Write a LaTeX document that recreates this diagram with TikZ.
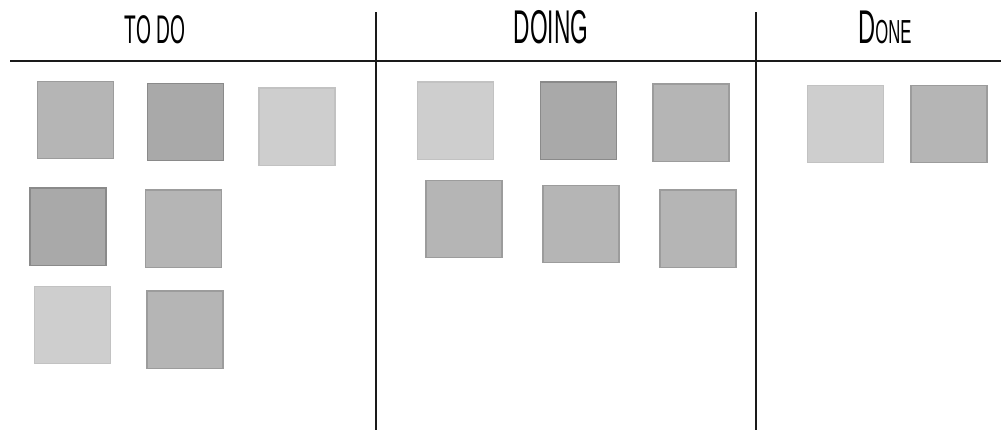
\documentclass[tikz,border=0pt]{standalone}
\usepackage{fontspec}
\setmainfont{Liberation Sans}
\usepackage{graphicx}
\definecolor{lightfill}{HTML}{CECECE}
\definecolor{lightedge}{HTML}{C2C2C2}
\definecolor{midfill}{HTML}{B5B5B5}
\definecolor{midedge}{HTML}{9C9C9C}
\definecolor{darkfill}{HTML}{A9A9A9}
\definecolor{darkedge}{HTML}{8A8A8A}
\definecolor{inkline}{HTML}{1A1A1A}
\begin{document}
\begin{tikzpicture}[x=0.75pt,y=-0.75pt,
  card/.style={rectangle, inner sep=0pt, minimum width=57pt, minimum height=58pt, line width=1pt},
  lightcard/.style={card, fill=lightfill, draw=lightedge},
  midcard/.style={card, fill=midfill, draw=midedge},
  darkcard/.style={card, fill=darkfill, draw=darkedge},
  coltitle/.style={anchor=base, inner sep=0pt, text=black},
  board/.style={draw=inkline, line width=1.4pt}]
\useasboundingbox (0,0) rectangle (1001,430);
% board lines
\coordinate (hl) at (10,61);
\coordinate (hr) at (1001,61);
\coordinate (v1t) at (376,12);
\coordinate (v1b) at (376,430);
\coordinate (v2t) at (756,12);
\coordinate (v2b) at (756,430);
\draw[board] (hl) -- (hr);
\draw[board] (v1t) -- (v1b);
\draw[board] (v2t) -- (v2b);
% titles
\node[coltitle] (todo) at (155,43) {\scalebox{0.48}[1]{\fontsize{30pt}{32pt}\selectfont TO DO}};
\node[coltitle] (doing) at (551,43) {\scalebox{0.48}[1]{\fontsize{35.5pt}{37pt}\selectfont DOING}};
\node[coltitle] (done) at (885,43) {\scalebox{0.5}[1]{\fontsize{35.5pt}{37pt}\selectfont D\fontsize{25pt}{27pt}\selectfont ONE}};
% TO DO cards
\node[midcard] (s1) at (75.5,120) {};
\node[darkcard] (s2) at (185.5,122) {};
\node[lightcard] (s3) at (297,126.5) {};
\node[darkcard] (s4) at (68,226.5) {};
\node[midcard] (s5) at (183.5,228.5) {};
\node[lightcard] (s6) at (72.5,325) {};
\node[midcard] (s7) at (185,329.5) {};
% DOING cards
\node[lightcard] (s8) at (455.5,120.5) {};
\node[darkcard] (s9) at (578.5,120.5) {};
\node[midcard] (s10) at (691,122.5) {};
\node[midcard] (s11) at (464,219) {};
\node[midcard] (s12) at (581,224) {};
\node[midcard] (s13) at (698,228.5) {};
% DONE cards
\node[lightcard] (s14) at (845.5,124) {};
\node[midcard] (s15) at (949,124) {};
\end{tikzpicture}
\end{document}
